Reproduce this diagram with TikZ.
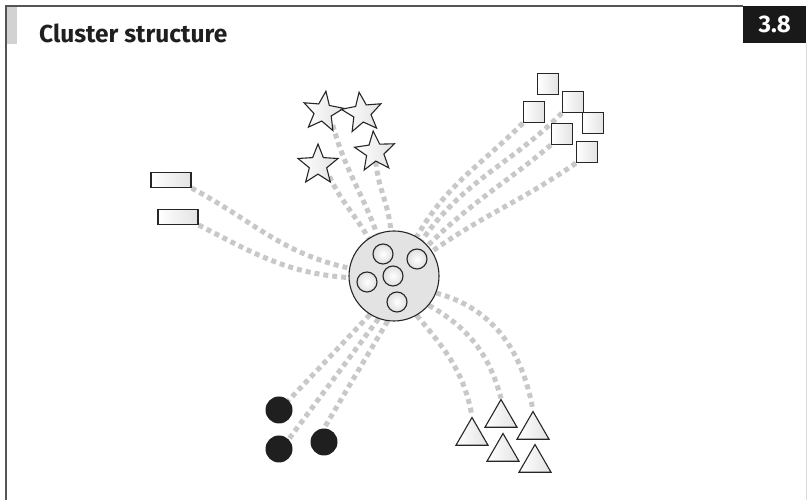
\documentclass[tikz,border=0pt]{standalone}
\usepackage{fontspec}
\setmainfont{Fira Sans}
\usetikzlibrary{positioning,shapes.geometric,backgrounds}
\definecolor{dotgray}{RGB}{200,200,200}
\definecolor{framegray}{RGB}{85,85,85}
\tikzset{
  dotline/.style={draw=dotgray, line width=5pt, dash pattern=on 5pt off 4pt},
  shp/.style={draw=black!85, line width=1.1pt, left color=white, right color=gray!22, inner sep=0pt},
  rectbox/.style={shp, rectangle, minimum width=40pt, minimum height=15pt},
  sqbox/.style={shp, rectangle, minimum size=21pt},
  starbox/.style={shp, star, star points=5, star point ratio=2.3, minimum size=42pt},
  tribox/.style={shp, regular polygon, regular polygon sides=3, minimum size=37pt},
  dotbox/.style={circle, fill=black!88, minimum size=27pt, inner sep=0pt},
  inbox/.style={circle, draw=black!85, line width=1.1pt, inner color=white, outer color=gray!25, minimum size=20pt, inner sep=0pt}
}
\begin{document}
\begin{tikzpicture}[x=1pt,y=1pt]
\useasboundingbox (0,0) rectangle (807,500);
% frame
\fill[gray!35] (6,456) rectangle (17,493);
\draw[framegray, line width=1.6pt] (6,0) -- (6,494) -- (743,494);
\draw[gray!30, line width=0.8pt] (806,457) -- (806,0);
\node[fill=black!90, minimum width=63pt, minimum height=37pt, anchor=north west, inner sep=0pt] (num) at (743,494.5) {};
\node[text=white, font=\bfseries\fontsize{24}{28}\selectfont] at (num.center) {3.8};
\node[anchor=base west, font=\bfseries\fontsize{24.5}{28}\selectfont, text=black!88, inner sep=0pt] (title) at (39,457) {Cluster structure};
% centre
\node[circle, draw=black!85, line width=1.1pt, fill=gray!22, minimum size=90pt] (cl) at (394,224) {};
\node[inbox] (c1) at (383,246) {};
\node[inbox] (c2) at (417,241) {};
\node[inbox] (c3) at (393,224) {};
\node[inbox] (c4) at (367,218) {};
\node[inbox] (c5) at (397,198) {};
% rectangles
\node[rectbox] (r1) at (171,320) {};
\node[rectbox] (r2) at (178,283) {};
% stars
\node[starbox, rotate=-8] (s1) at (323,388) {};
\node[starbox, rotate=8] (s2) at (362,387) {};
\node[starbox, rotate=5] (s3) at (375,348) {};
\node[starbox] (s4) at (318,335) {};
% squares
\node[sqbox] (q1) at (548,416) {};
\node[sqbox] (q2) at (573,398) {};
\node[sqbox] (q3) at (534,388) {};
\node[sqbox] (q4) at (593,377) {};
\node[sqbox] (q5) at (562,366) {};
\node[sqbox] (q6) at (587,348) {};
% black dots
\node[dotbox] (d1) at (279,90) {};
\node[dotbox] (d2) at (279,51) {};
\node[dotbox] (d3) at (324,58) {};
% triangles
\node[tribox] (t1) at (472,64) {};
\node[tribox] (t2) at (501,82) {};
\node[tribox] (t3) at (533,70) {};
\node[tribox] (t4) at (503,48) {};
\node[tribox] (t5) at (535,37) {};
% connectors
\begin{scope}[on background layer]
\draw[dotline] (r1.south east) to[out=-28, in=168] (cl.170);
\draw[dotline] (r2.south east) to[out=-27, in=176] (cl.182);
\draw[dotline] (s1.south east) to[out=-75, in=110] (cl.112);
\draw[dotline] (s4.south east) to[out=-65, in=120] (cl.124);
\draw[dotline] (s3.south) to[out=-85, in=95] (cl.94);
\draw[dotline] (q2.south west) to[out=-135, in=55] (cl.52);
\draw[dotline] (q3.south west) to[out=-135, in=60] (cl.60);
\draw[dotline] (q5.south west) to[out=-140, in=45] (cl.42);
\draw[dotline] (q6.south west) to[out=-145, in=35] (cl.33);
\draw[dotline] (cl.238) -- (d1.north east);
\draw[dotline] (cl.250) -- (d2.north east);
\draw[dotline] (cl.262) -- (d3.north);
\draw[dotline] (cl.-60) to[out=-50, in=100] (t1.corner 1);
\draw[dotline] (cl.-40) to[out=-30, in=105] (t2.corner 1);
\draw[dotline] (cl.-22) to[out=-15, in=100] (t3.corner 1);
\end{scope}
\end{tikzpicture}
\end{document}
